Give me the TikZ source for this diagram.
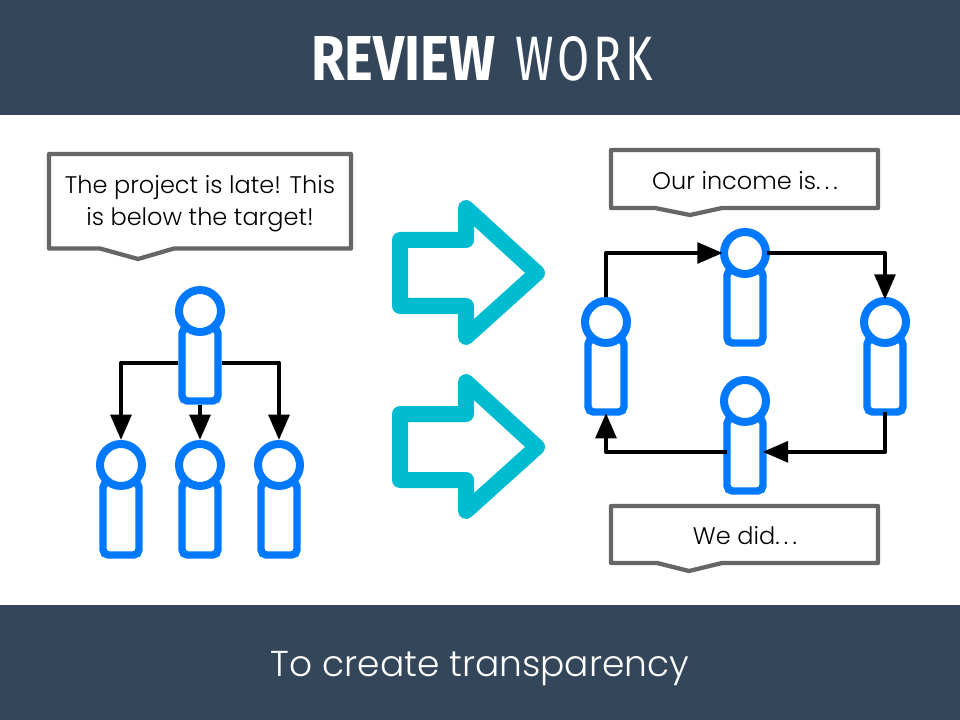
\documentclass[tikz,border=0pt]{standalone}
\usepackage{fontspec}
\usepackage{graphicx}
\setmainfont{Poppins Light}
\newfontfamily\titleb{Fira Sans}[UprightFont=*,BoldFont=* Bold]
\newfontfamily\titlel{Fira Sans}
\usetikzlibrary{arrows.meta}
\definecolor{band}{HTML}{34465A}
\definecolor{pblue}{HTML}{0079FF}
\definecolor{teal2}{HTML}{00BCD0}
\definecolor{boxgray}{HTML}{666666}
\tikzset{
  headc/.style={circle,draw=pblue,fill=white,line width=6pt,minimum size=31.5pt,inner sep=0pt},
  bodyb/.style={rectangle,rounded corners=4pt,draw=pblue,fill=white,line width=5.6pt,minimum width=27pt,minimum height=54.75pt,inner sep=0pt},
  conn/.style={draw=black,line width=3pt,line join=round,-{Triangle[length=19pt,width=15.5pt]}},
  bigarrow/.style={draw=teal2,line width=12pt,line join=round,fill=white},
  callout/.style={draw=boxgray,fill=white,line width=3.2pt,line join=round},
  txt/.style={text=black,font=\fontsize{18}{24}\selectfont,inner sep=0pt,align=center},
}
\newcommand{\person}[3]{%
  \node[bodyb] (b#1) at (#2,#3+53.5) {};
  \node[headc] (h#1) at (#2,#3) {};
}
\newcommand{\wdots}{{\addfontfeature{LetterSpace=18}...}}
\begin{document}
\begin{tikzpicture}[x=0.75pt,y=-0.75pt]
\useasboundingbox (0,0) rectangle (960,720);
\fill[white] (0,0) rectangle (960,720);
\fill[band] (0,0) rectangle (960,115);
\fill[band] (0,605) rectangle (960,720);
\node[anchor=base west,inner sep=0pt,text=white] (t1) at (311,81) {\resizebox{138pt}{33pt}{\titleb\bfseries REVIEW}};
\node[anchor=base west,inner sep=0pt,text=white] (t2) at (515,81) {\resizebox{103pt}{33pt}{\titlel W\kern0.08em O\kern0.08em R\kern0.08em K}};
\node[inner sep=0pt,text=white,font=\fontsize{27}{32}\selectfont] (foot) at (480,669) {To create transparency};

% callouts
\draw[callout] (49,154) -- (351,154) -- (351,248.5) -- (174,248.5) -- (138,259) -- (100,248.5) -- (49,248.5) -- cycle;
\node[txt] (c1) at (200,204) {The project is late! This\\is below the target!};
\draw[callout] (611,150) -- (878,150) -- (878,208) -- (722,208) -- (690,215) -- (655,208) -- (611,208) -- cycle;
\node[txt] (c2) at (745,180.5) {Our income is\wdots};
\draw[callout] (611,506) -- (878,506) -- (878,563) -- (722,563) -- (689,571) -- (657,563) -- (611,563) -- cycle;
\node[txt] (c3) at (745,535.5) {We did\wdots};

% big arrows
\draw[bigarrow] (400,240) -- (466,240) -- (466,208) -- (537,273) -- (466,337) -- (466,306) -- (400,306) -- cycle;
\draw[bigarrow] (400,414) -- (466,414) -- (466,382) -- (537,447) -- (466,511) -- (466,480) -- (400,480) -- cycle;

% people
\person{1}{200}{311}
\person{2}{121}{465}
\person{3}{200}{465}
\person{4}{279}{465}
\person{5}{606}{322}
\person{6}{745}{253}
\person{7}{885}{322}
\person{8}{745}{401}

% connectors
\draw[conn] ([yshift=1.5pt]b1.west) -| (h2.north);
\draw[conn] (b1.south) -- (h3.north);
\draw[conn] ([yshift=1.5pt]b1.east) -| (h4.north);
\draw[conn] (h5.north) |- ([xshift=2pt]h6.west);
\draw[conn] ([xshift=-2pt]h6.east) -| ([yshift=-2pt]h7.north);
\draw[conn] ([yshift=3pt]b7.south) |- ([xshift=-3pt,yshift=2pt]b8.east);
\draw[conn] ([xshift=3pt,yshift=2pt]b8.west) -| ([yshift=2pt]b5.south);
\end{tikzpicture}
\end{document}
